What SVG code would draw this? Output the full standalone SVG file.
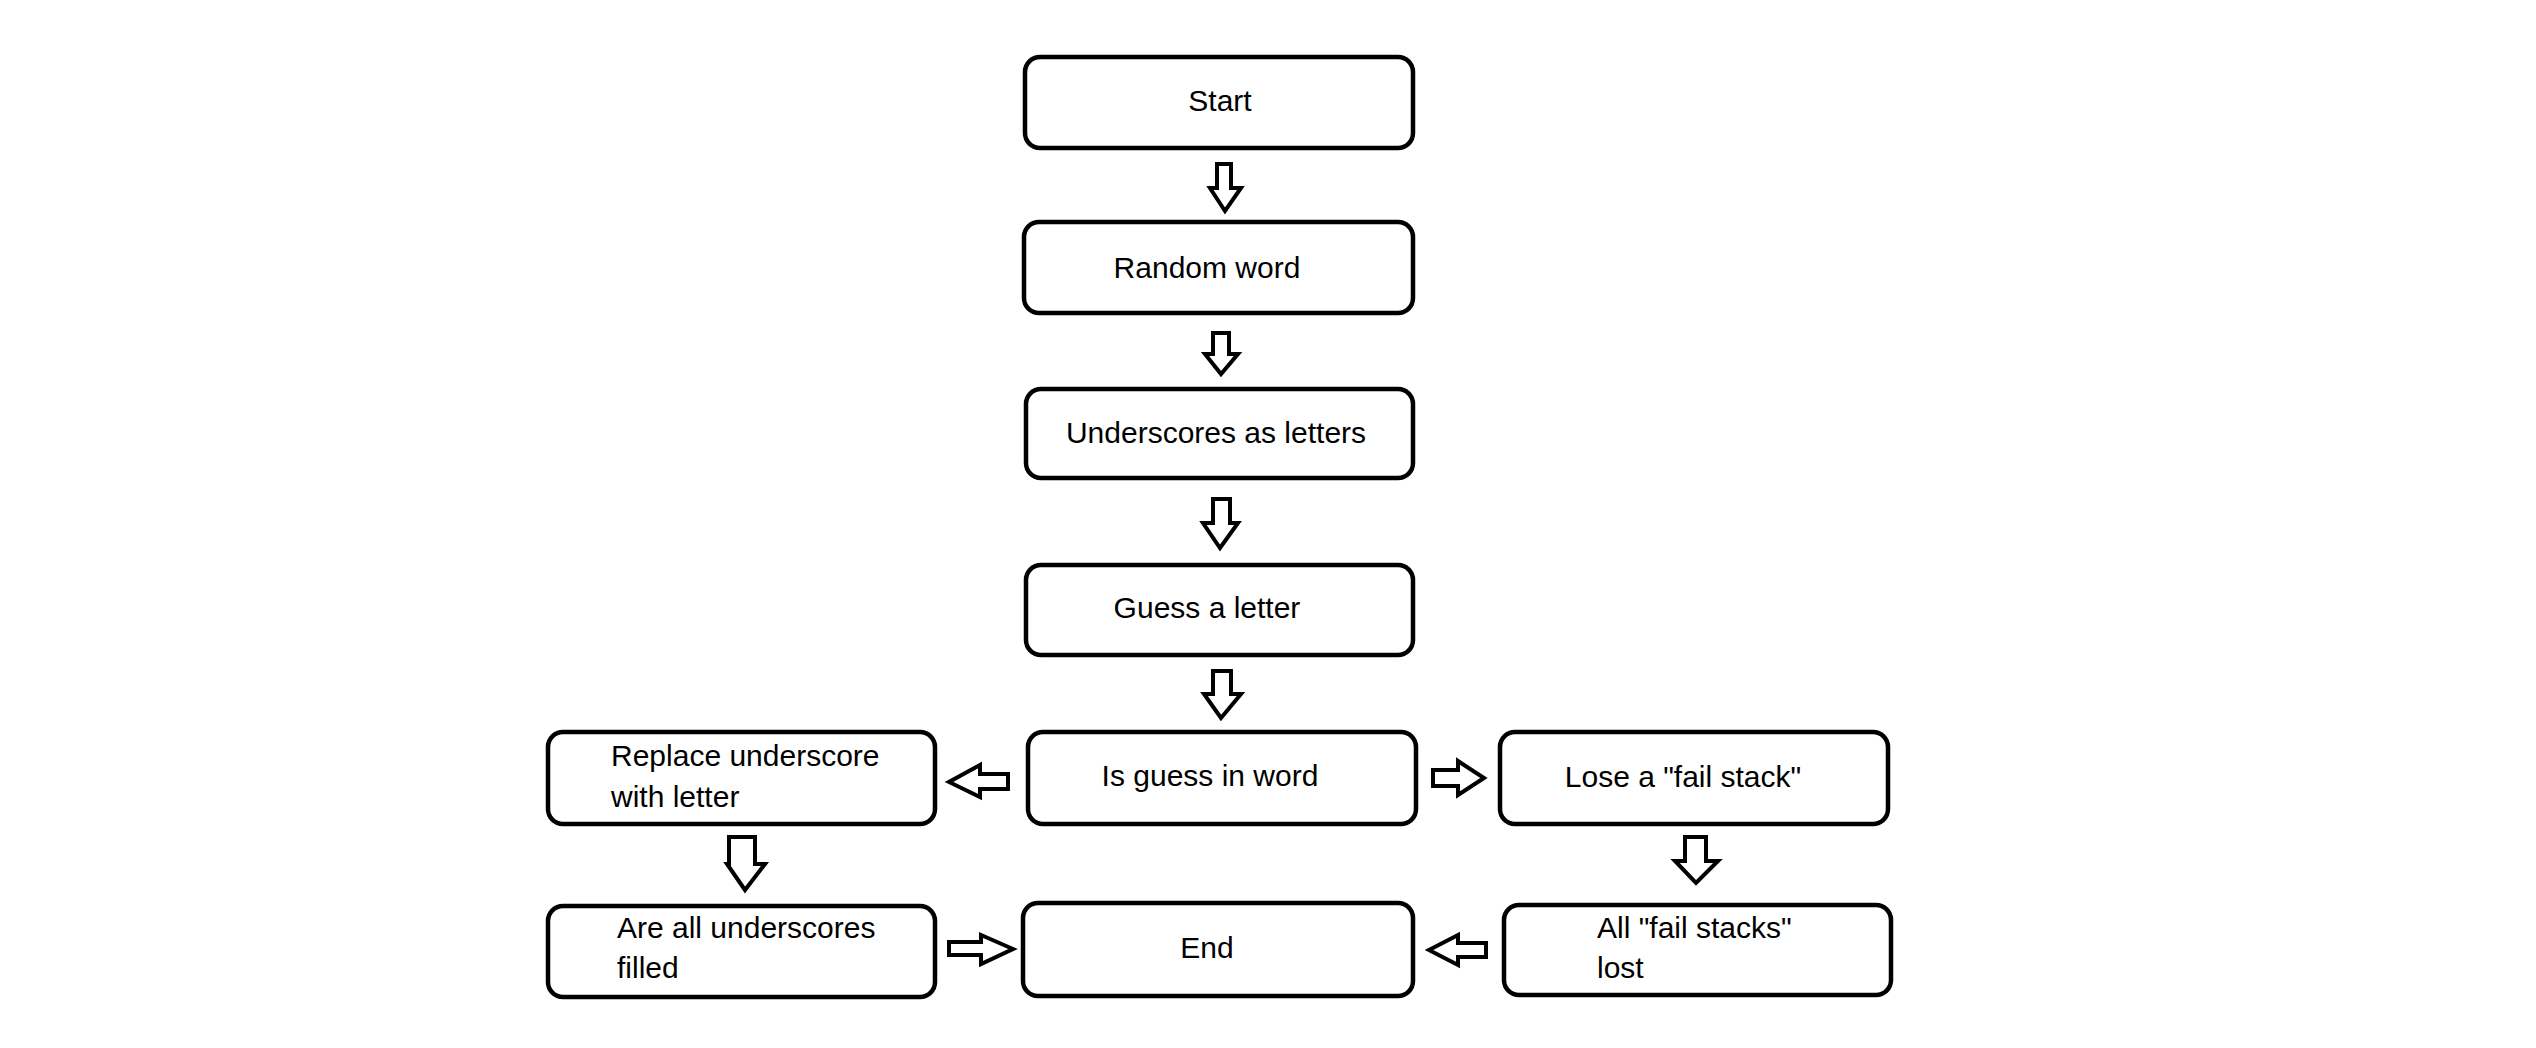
<svg xmlns="http://www.w3.org/2000/svg" width="2536" height="1048" viewBox="0 0 2536 1048">
<style>
.box{fill:#fff;stroke:#000;stroke-width:4.5}
.arr{fill:#fff;stroke:#000;stroke-width:4;stroke-linejoin:miter}
text{font-family:"Liberation Sans",Arial,sans-serif;font-size:30px;fill:#000}
.c{text-anchor:middle}
</style>
<rect width="2536" height="1048" fill="#fff"/>
<g id="start"><rect class="box" x="1025" y="57" width="388" height="91" rx="15"/><text class="c" x="1220" y="111">Start</text></g>
<g id="random"><rect class="box" x="1024" y="222" width="389" height="91" rx="15"/><text class="c" x="1207" y="278">Random word</text></g>
<g id="underscores"><rect class="box" x="1026" y="389" width="387" height="89" rx="15"/><text class="c" x="1216" y="443">Underscores as letters</text></g>
<g id="guess"><rect class="box" x="1026" y="565" width="387" height="90" rx="15"/><text class="c" x="1207" y="618">Guess a letter</text></g>
<g id="isguess"><rect class="box" x="1028" y="732" width="388" height="92" rx="15"/><text class="c" x="1210" y="786">Is guess in word</text></g>
<g id="replace"><rect class="box" x="548" y="732" width="387" height="92" rx="15"/><text x="611" y="766">Replace underscore</text><text x="611" y="807">with letter</text></g>
<g id="areall"><rect class="box" x="548" y="906" width="387" height="91" rx="15"/><text x="617" y="938">Are all underscores</text><text x="617" y="978">filled</text></g>
<g id="lose"><rect class="box" x="1500" y="732" width="388" height="92" rx="15"/><text class="c" x="1683" y="787">Lose a "fail stack"</text></g>
<g id="allfail"><rect class="box" x="1504" y="905" width="387" height="90" rx="15"/><text x="1597" y="938">All "fail stacks"</text><text x="1597" y="978">lost</text></g>
<g id="end"><rect class="box" x="1023" y="903" width="390" height="93" rx="15"/><text class="c" x="1207" y="958">End</text></g>
<g id="connectors">
<polygon class="arr" points="1217,164 1231,164 1231,188 1241,188 1225,211 1210,188 1217,188"/>
<polygon class="arr" points="1213,333 1229,333 1229,354 1238,354 1221,374 1205,354 1213,354"/>
<polygon class="arr" points="1213,499 1230,499 1230,523 1238,523 1220,548 1203,523 1213,523"/>
<polygon class="arr" points="1213,671 1231,671 1231,694 1241,694 1221,718 1204,694 1213,694"/>
<polygon class="arr" points="1008,774 1008,789 980,789 980,797 949,782 980,765 980,774"/>
<polygon class="arr" points="1433,770 1458,770 1458,761 1484,778 1458,795 1458,786 1433,786"/>
<polygon class="arr" points="729,837 755,837 755,864 765,864 745,890 727,864 729,864"/>
<polygon class="arr" points="1685,837 1706,837 1706,861 1718,861 1696,883 1675,861 1685,861"/>
<polygon class="arr" points="949,942 981,942 981,935 1013,949 981,964 981,955 949,955"/>
<polygon class="arr" points="1486,943 1486,957 1458,957 1458,965 1429,950 1458,935 1458,943"/>
</g>
</svg>
